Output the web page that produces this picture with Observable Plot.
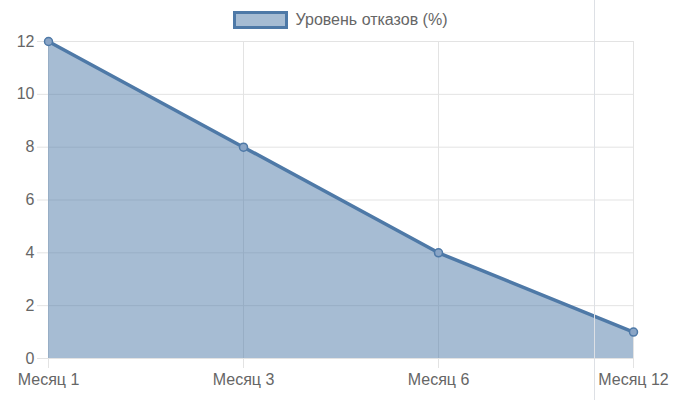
<!DOCTYPE html>
<html><head><meta charset="utf-8">
<script src="https://cdn.jsdelivr.net/npm/d3@7"></script>
<script src="https://cdn.jsdelivr.net/npm/@observablehq/plot@0.6"></script>
<style>
body{margin:0;background:#fff;font-family:"Liberation Sans",Arial,sans-serif;}
#wrap{position:relative;width:684px;height:400px;}
#legend{height:32px;box-sizing:border-box;padding-top:8px;display:flex;align-items:center;justify-content:center;font-size:16px;color:#666;}
#legend .sw{width:49px;height:12px;background:rgba(78,121,167,0.5);border:3px solid #4e79a7;margin-right:8px;margin-left:-4px;}
#stray{position:absolute;left:594px;top:0;width:1px;height:400px;background:#dde0e5;}
svg{display:block;}
</style></head>
<body>
<div id="wrap">
<div id="legend"><span class="sw"></span><span>Уровень отказов (%)</span></div>
<div id="chart"></div>
<div id="stray"></div>
</div>
<script>
const months = ["Месяц 1","Месяц 3","Месяц 6","Месяц 12"];
const rates = [12, 8, 4, 1];
const yTicks = [0,2,4,6,8,10,12];
const seriesName = "Уровень отказов (%)";

const data = months.map((m,i)=>({month:m, value:rates[i]}));
const blue = "#4e79a7";
const grid = "#e3e3e3";

const chart = Plot.plot({
  width: 684,
  height: 368,
  marginTop: 9,
  marginBottom: 42,
  marginLeft: 47,
  marginRight: 50,
  style: {fontFamily: '"Liberation Sans", Arial, sans-serif', fontSize: "16px", color: "#666", background: "#fff"},
  x: {type: "point", domain: months, padding: 0},
  y: {domain: [0, 12]},
  marks: [
    Plot.gridY(yTicks, {stroke: grid, strokeOpacity: 1}),
    Plot.gridX(months, {stroke: grid, strokeOpacity: 1}),
    Plot.axisY(yTicks, {tickSize: 10, tickPadding: 3, stroke: grid, strokeOpacity: 1, fill: "#666", fontSize: 16, label: null}),
    Plot.axisX(months, {tickSize: 10, tickPadding: 5, stroke: grid, strokeOpacity: 1, fill: "#666", fontSize: 16, label: null}),
    Plot.areaY(data, {x: "month", y: "value", fill: blue, fillOpacity: 0.5}),
    Plot.lineY(data, {x: "month", y: "value", stroke: blue, strokeWidth: 3.5}),
    Plot.dot(data, {x: "month", y: "value", r: 4, fill: "#8aa5c6", stroke: blue, strokeWidth: 1.5})
  ]
});
document.getElementById("chart").appendChild(chart);
</script>
</body></html>
